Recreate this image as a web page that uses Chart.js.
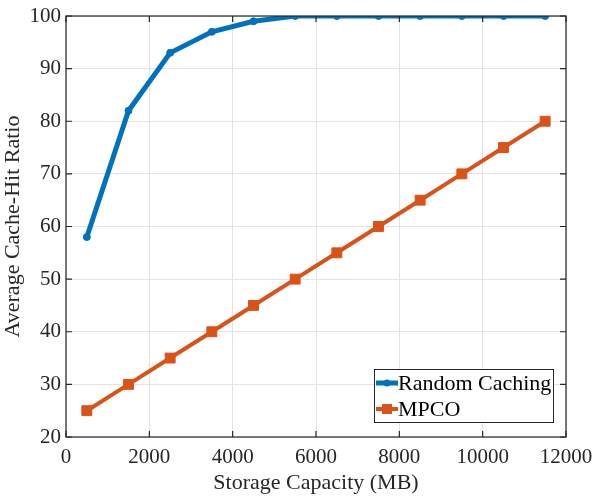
<!DOCTYPE html>
<html><head><meta charset="utf-8">
<script src="https://cdn.jsdelivr.net/npm/chart.js@4/dist/chart.umd.min.js"></script>
<style>html,body{margin:0;padding:0;background:#fff}#wrap{width:594px;height:496px}</style>
</head><body><div id="wrap"><canvas id="c" width="594" height="496"></canvas></div>
<script>
const capacity = [500,1500,2500,3500,4500,5500,6500,7500,8500,9500,10500,11500];
const randomCaching = [58,82,93,97,99,100,100,100,100,100,100,100];
const mpco = [25,30,35,40,45,50,55,60,65,70,75,80];
const seriesNames = ['Random Caching','MPCO'];
const xTitle = 'Storage Capacity (MB)';
const yTitle = 'Average Cache-Hit Ratio';
const FONT = "'Liberation Serif', 'Times New Roman', serif";
const AX = '#262626';

const framePlugin = {
  id:'frame',
  afterDraw(chart){
    const {ctx, chartArea:a, scales:{x,y}} = chart;
    ctx.save();
    ctx.strokeStyle = AX; ctx.lineWidth = 1.2;
    ctx.strokeRect(a.left, a.top, a.right-a.left, a.bottom-a.top);
    ctx.beginPath();
    x.ticks.forEach(t=>{const px=x.getPixelForValue(t.value);
      ctx.moveTo(px,a.bottom);ctx.lineTo(px,a.bottom-6);
      ctx.moveTo(px,a.top);ctx.lineTo(px,a.top+6);});
    y.ticks.forEach(t=>{const py=y.getPixelForValue(t.value);
      ctx.moveTo(a.left,py);ctx.lineTo(a.left+6,py);
      ctx.moveTo(a.right,py);ctx.lineTo(a.right-6,py);});
    ctx.stroke();
    // legend
    const lx=374, ly=369, lw=179, lh=53;
    ctx.fillStyle='#fff'; ctx.fillRect(lx,ly,lw,lh);
    ctx.strokeStyle=AX; ctx.lineWidth=1; ctx.strokeRect(lx+0.5,ly+0.5,lw,lh);
    ctx.font = "22px "+FONT; ctx.textBaseline='middle'; ctx.textAlign='left';
    chart.data.datasets.forEach((ds,i)=>{
      const cy = ly+14+i*26;
      ctx.strokeStyle=ds.borderColor; ctx.lineWidth=ds.borderWidth;
      ctx.beginPath(); ctx.moveTo(lx+2,cy); ctx.lineTo(lx+24,cy); ctx.stroke();
      ctx.fillStyle=ds.borderColor;
      if(ds.pointStyle==='rect'){ctx.fillRect(lx+13-5,cy-5,10,10);}
      else {ctx.beginPath();ctx.arc(lx+13,cy,3.5,0,Math.PI*2);ctx.fill();}
      ctx.fillStyle='#000'; ctx.fillText(ds.label, lx+24, cy+1);
    });
    ctx.restore();
  }
};

new Chart(document.getElementById('c'),{
  type:'line',
  data:{datasets:[
    {label:seriesNames[0], data:capacity.map((v,i)=>({x:v,y:randomCaching[i]})),
     borderColor:'#0072BD', backgroundColor:'#0072BD', borderWidth:5, pointStyle:'circle', pointRadius:3.5, pointHoverRadius:3.5, pointBorderWidth:1, tension:0},
    {label:seriesNames[1], data:capacity.map((v,i)=>({x:v,y:mpco[i]})),
     borderColor:'#D95319', backgroundColor:'#D95319', borderWidth:4, pointStyle:'rect', pointRadius:7, pointHoverRadius:7, pointBorderWidth:1, tension:0}
  ]},
  options:{
    responsive:false, animation:false, events:[],
    layout:{padding:{top:16,right:28,left:0,bottom:0}},
    plugins:{legend:{display:false},tooltip:{enabled:false}},
    scales:{
      x:{type:'linear',min:0,max:12000,
         ticks:{stepSize:2000,color:AX,font:{family:FONT,size:21},maxRotation:0,padding:8,callback:v=>String(v)},
         grid:{color:'#e3e3e3',drawTicks:false},border:{display:false},
         title:{display:true,text:xTitle,color:AX,font:{family:FONT,size:22},padding:{top:0,bottom:0}},
         afterFit(s){s.height=59;s.paddingLeft=0;s.paddingRight=0;}},
      y:{type:'linear',min:20,max:100,
         ticks:{stepSize:10,color:AX,font:{family:FONT,size:21},padding:5},
         grid:{color:'#e3e3e3',drawTicks:false},border:{display:false},
         title:{display:true,text:yTitle,color:AX,font:{family:FONT,size:22},padding:{top:0,bottom:4}},
         afterFit(s){s.width=66;s.paddingTop=0;s.paddingBottom=0;}}
    }
  },
  plugins:[framePlugin]
});
</script></body></html>
